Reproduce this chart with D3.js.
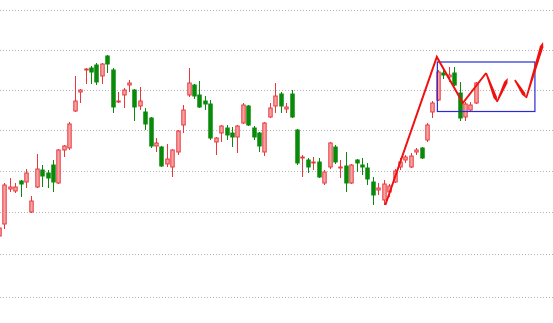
<!DOCTYPE html>
<html><head><meta charset="utf-8">
<script src="https://cdn.jsdelivr.net/npm/d3@7"></script>
<style>html,body{margin:0;padding:0;background:#fff;overflow:hidden}</style>
</head><body><svg id="c" width="553" height="323"></svg>
<script>
// candle index -1 .. 87
const candleIndex = d3.range(-1, 88);
const openVals  = [23.5,26.5,35.25,34.75,37.25,37,29.5,35.75,40,39.25,41.25,36.75,45,45.5,54.75,59.5,65,65.5,66.25,63.5,68.5,65,57,58.75,61.25,60,56,54.5,53,46,45.75,41.5,40.75,44.5,51.25,58.75,61.25,58.75,57.25,56.5,47,49.25,50.5,49.25,48.25,51.75,56,50.5,49.25,44.5,53.25,56,59,55.25,59,50,43,42.5,41.75,42,36.75,40.75,45.75,40.5,41,36.75,42.5,41.25,40.5,37,35,32.5,34.5,37,40.75,42.5,40.75,44.5,45.5,47.5,54.5,57.5,64.25,63.25,64.25,59.25,53.25,55,56.75];
const highVals  = [27,36.75,38,36.75,37.5,40.25,33.5,44,41.25,40,42.5,45.25,46.25,52,63.5,60.25,65.5,66,66.75,66.75,68.75,65.5,59.5,60.5,62.5,60.25,60.75,55.5,53.25,48,46,46.5,45.25,50,56.25,65.5,61.5,62.25,58.5,57.5,48.25,51.25,51.25,50.75,51.25,56.75,56.25,51,49.5,52,56.75,61.75,59.5,56.75,60,50.25,43.75,43,43.25,43,40,47,46.25,42.5,44.5,41.5,42.75,43,41.75,38.25,36.75,37.5,36.5,40.25,43,43.75,44.25,45.5,45.75,51.75,57.25,65,65,65.75,65.75,62,57,57,62];
const lowVals   = [22.5,25.25,34.5,34.25,33.25,35.5,29.25,35.5,35.75,35.5,34.5,36.5,43.25,45,54.5,56.75,61.5,61.5,61.25,61.5,64.25,54.25,56.75,55.5,59.5,52.25,55,50,45.5,44.5,40.75,40.75,38.25,43.75,49.25,58.25,57.75,55.5,55,47.5,43.75,47,47.5,45.75,44.25,51.5,51,47.5,44.5,43.5,53,54.25,54.25,54.25,53,41.25,38.25,39.25,40,38,36.25,40.25,41.5,38,34.5,36.5,39.5,38.75,36.25,31.25,33.75,31.25,33.25,36.75,40,41.75,40.5,43.75,42.75,47,53,57.25,62.75,62,61,52.25,52.25,54.75,56.5];
const closeVals = [25.5,36.25,35.75,35.75,36.5,39.25,32.25,40.25,38.5,38,37,45,46,51.5,57.25,60,65.25,64.5,62,66.5,66.5,55.75,57.25,60,61.75,55.75,57.25,51.5,46,46.75,41,42.75,45,49.75,55,61.75,58.5,55.75,56.5,48,48,51,48.75,48.25,51,56.25,51.25,48.25,46,51.75,55.5,58.5,56,55.75,53.25,41.75,43.25,40.75,42,38.25,39.5,46.75,42,40.75,36.75,41.25,41.75,40.75,37.75,33.75,35.5,36.5,36,39.75,42,43.25,43.5,45,43,51.25,56.75,64.5,63.75,63.75,61.25,53,56.5,56.25,61.75];

const gridValues = [80,70,60,50,39.8,29.4,19,8.25];

// projected wave (index, price)
const waveIdx   = [70.3, 79.8, 84.6, 88.9];
const wavePrice = [31.25, 68.25, 56.75, 64.25];
const arrowFromIdx   = [88.9, 90.9, 94.2, 96.3];
const arrowFromPrice = [64.25, 57, 62.5, 58];
const arrowToIdx     = [90.9, 92.9, 96.3, 99.4];
const arrowToPrice   = [57, 63, 58, 72];

const boxIdx = [79.9, 97.9];
const boxPrice = [67, 54.625];

const W = 553, H = 323;
const x = d3.scaleLinear().domain([0, 100]).range([4.3, 546.3]);
const y = d3.scaleLinear().domain([0, 80]).range([330, 10]);
const svg = d3.select('#c');

svg.append('g').selectAll('line').data(gridValues).join('line')
  .attr('x1', 0).attr('x2', W)
  .attr('y1', d => Math.round(y(d)) + 0.5).attr('y2', d => Math.round(y(d)) + 0.5)
  .attr('stroke', '#b4b4b4').attr('stroke-width', 1).attr('stroke-dasharray', '1,2');

const candles = candleIndex.map((i, k) => ({i, o: openVals[k], h: highVals[k], l: lowVals[k], c: closeVals[k]}));
const up = '#e8383d', upFill = '#f7a3a3', down = '#0a8a0a';
const bw = 3.4;
const g = svg.append('g');
g.selectAll('line.w').data(candles).join('line').attr('class','w')
  .attr('x1', d => Math.round(x(d.i)) + 0.5).attr('x2', d => Math.round(x(d.i)) + 0.5)
  .attr('y1', d => y(d.h)).attr('y2', d => y(d.l))
  .attr('stroke', d => d.c >= d.o ? up : down).attr('stroke-width', 1);
g.selectAll('rect.b').data(candles).join('rect').attr('class','b')
  .attr('x', d => Math.round(x(d.i)) + 0.5 - bw/2)
  .attr('width', bw)
  .attr('y', d => y(Math.max(d.o, d.c)))
  .attr('height', d => Math.max(1, Math.abs(y(d.o) - y(d.c))))
  .attr('fill', d => d.c >= d.o ? upFill : down)
  .attr('stroke', d => d.c >= d.o ? up : down).attr('stroke-width', 1);

svg.append('rect')
  .attr('x', x(boxIdx[0])).attr('y', y(boxPrice[0]))
  .attr('width', x(boxIdx[1]) - x(boxIdx[0])).attr('height', y(boxPrice[1]) - y(boxPrice[0]))
  .attr('fill', 'none').attr('stroke', '#2a2ad8').attr('stroke-width', 1.2);

const line = d3.line().x(d => x(d[0])).y(d => y(d[1]));
svg.append('path').datum(waveIdx.map((v, k) => [v, wavePrice[k]]))
  .attr('d', line).attr('fill', 'none').attr('stroke', '#f01010').attr('stroke-width', 2)
  .attr('stroke-linejoin', 'miter');

arrowFromIdx.forEach((fi, k) => {
  const x0 = x(fi), y0 = y(arrowFromPrice[k]), x1 = x(arrowToIdx[k]), y1 = y(arrowToPrice[k]);
  const dx = x1 - x0, dy = y1 - y0, len = Math.hypot(dx, dy);
  const ux = dx/len, uy = dy/len, nx = -uy, ny = ux;
  const a = 0.8, b = 1.8, L = 5;
  const pts = [[x0 + nx*a, y0 + ny*a], [x1 - ux*L + nx*b, y1 - uy*L + ny*b], [x1, y1],
               [x1 - ux*L - nx*b, y1 - uy*L - ny*b], [x0 - nx*a, y0 - ny*a]];
  svg.append('path').attr('d', 'M' + pts.map(p => p.join(',')).join('L') + 'Z')
    .attr('fill', '#f01010');
});
</script></body></html>
